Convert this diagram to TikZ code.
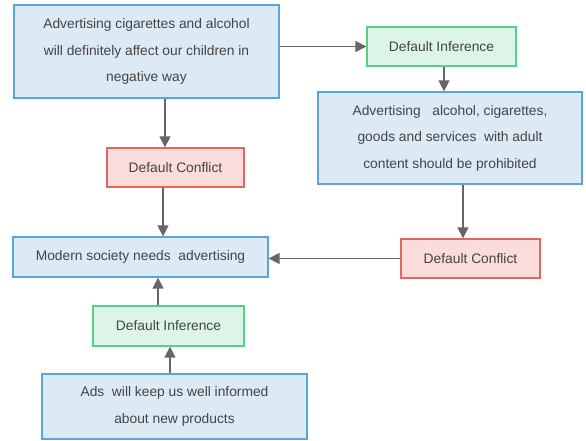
\documentclass[tikz,border=0pt]{standalone}
\usepackage{fontspec}
\setmainfont{Liberation Sans}
\usepackage{tikz}
\usetikzlibrary{arrows.meta}
\usetikzlibrary{shapes}

\definecolor{blue_fill}{HTML}{DCEAF6}
\definecolor{blue_line}{HTML}{5AA5DE}
\definecolor{green_fill}{HTML}{DDF5E6}
\definecolor{green_line}{HTML}{55D08A}
\definecolor{red_fill}{HTML}{FADCDA}
\definecolor{red_line}{HTML}{E0675C}
\definecolor{text_gray}{HTML}{444444}
\definecolor{arrow_gray}{HTML}{666666}

\begin{document}
\begin{tikzpicture}[x=1pt,y=-1pt,every node/.style = {rectangle, inner sep=0pt, align=center, text=text_gray,
					font=\fontsize{13.8}{26.5}\selectfont, line width=1.3pt}]

\tikzstyle{claim_box}=[draw=blue_line, fill=blue_fill]
\tikzstyle{inference_box}=[draw=green_line, fill=green_fill, minimum height=39pt]
\tikzstyle{conflict_box}=[draw=red_line, fill=red_fill, minimum height=39pt]
\tikzstyle{arrow_line}=[draw=arrow_gray, line width=1.5pt, -{Triangle[width=11pt,length=11pt]}]

\useasboundingbox (0,0) rectangle (586,441);

\node[claim_box, minimum width=265pt, minimum height=93pt] (children) at (146.5,51.5)
	{Advertising cigarettes and alcohol\\will definitely affect our children in\\negative way};
\node[conflict_box, minimum width=137pt] (conflict_left) at (175.5,167.5) {Default Conflict};
\node[inference_box, minimum width=149pt] (inference_top) at (441.5,46.5) {Default Inference};
\node[claim_box, minimum width=264pt, minimum height=92pt] (prohibit) at (450,138)
	{Advertising~~ alcohol, cigarettes,\\goods and services~ with adult\\content should be prohibited};
\node[conflict_box, minimum width=139pt] (conflict_right) at (470.5,258.5) {Default Conflict};
\node[claim_box, minimum width=255pt, minimum height=40pt] (society) at (140.5,257) {Modern society needs~ advertising};
\node[inference_box, minimum width=151pt, minimum height=40pt] (inference_bottom) at (168.5,326) {Default Inference};
\node[claim_box, minimum width=265pt, minimum height=65pt] (ads) at (174.5,406.5)
	{Ads~ will keep us well informed\\about new products};

% connectors
\draw[arrow_line] ([xshift=18.5pt]children.south) -- ([xshift=-10.5pt]conflict_left.north);
\draw[arrow_line] ([xshift=-12.5pt]conflict_left.south) -- ([xshift=22.5pt]society.north);
\draw[arrow_line] (inference_top.west -| children.east) -- (inference_top.west);
\draw[arrow_line] ([xshift=2.5pt]inference_top.south) -- ([xshift=2.5pt]inference_top.south |- prohibit.north);
\draw[arrow_line] ([xshift=-7.5pt]conflict_right.north |- prohibit.south) -- ([xshift=-7.5pt]conflict_right.north);
\draw[arrow_line] (conflict_right.west) -- (conflict_right.west -| society.east);
\draw[arrow_line] ([xshift=-10.5pt]inference_bottom.north) -- ([xshift=17.5pt]society.south);
\draw[arrow_line] ([xshift=-4.5pt]ads.north) -- ([xshift=1.5pt]inference_bottom.south);
\end{tikzpicture}
\end{document}
